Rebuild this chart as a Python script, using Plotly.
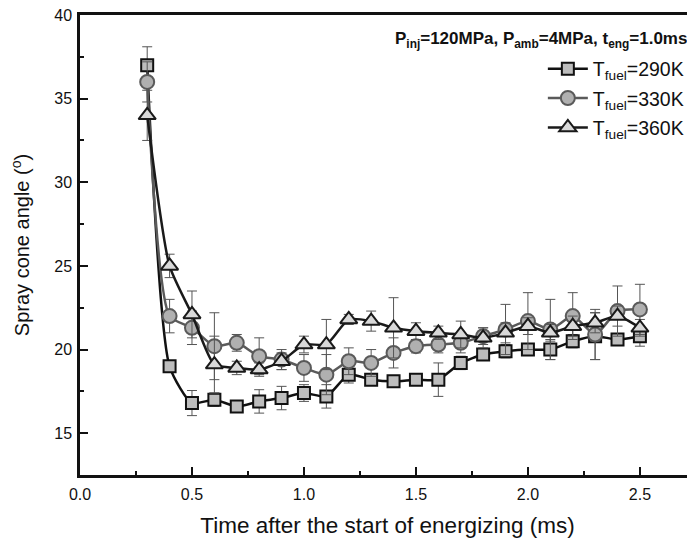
import plotly.graph_objects as go

time_ms = [0.3, 0.4, 0.5, 0.6, 0.7, 0.8, 0.9, 1.0, 1.1, 1.2, 1.3, 1.4, 1.5, 1.6,
           1.7, 1.8, 1.9, 2.0, 2.1, 2.2, 2.3, 2.4, 2.5]

angle_290 = [37.0, 19.0, 16.8, 17.0, 16.6, 16.9, 17.1, 17.4, 17.2, 18.5, 18.2, 18.1,
             18.2, 18.2, 19.2, 19.7, 19.9, 20.0, 20.0, 20.5, 20.8, 20.6, 20.8]
err_290 = [1.1, 0.3, 0.75, 0.4, 0.3, 0.7, 0.7, 0.5, 0.7, 0.5, 0.3, 0.3,
           0.3, 1.0, 0.4, 0.3, 0.4, 0.3, 0.6, 0.4, 1.4, 0.3, 0.6]

angle_330 = [36.0, 22.0, 21.3, 20.2, 20.4, 19.6, 19.4, 18.9, 18.5, 19.3, 19.2, 19.8,
             20.2, 20.3, 20.4, 20.8, 21.2, 21.7, 21.2, 22.0, 20.9, 22.3, 22.4]
err_330 = [1.2, 1.0, 1.0, 2.0, 0.5, 1.1, 0.6, 0.8, 1.2, 0.8, 0.8, 0.9,
           0.4, 0.5, 0.6, 0.5, 1.5, 1.7, 1.8, 1.4, 1.5, 1.5, 1.5]

angle_360 = [34.0, 25.0, 22.1, 19.1, 18.9, 18.8, 19.3, 20.3, 20.3, 21.8, 21.7, 21.3,
             21.1, 21.0, 20.9, 20.7, 21.0, 21.4, 21.0, 21.4, 21.6, 22.0, 21.3]
err_360 = [1.5, 0.7, 1.4, 1.7, 0.4, 0.4, 0.5, 0.5, 1.5, 0.3, 0.6, 1.8,
           0.5, 0.4, 0.8, 0.6, 0.6, 0.5, 0.5, 0.6, 0.6, 0.6, 0.5]

series = [
    ("T<sub>fuel</sub>=290K", angle_290, err_290, "square", 12, "#bdbdbd", "#111111", "#111111"),
    ("T<sub>fuel</sub>=330K", angle_330, err_330, "circle", 14, "#b0b0b0", "#5a5a5a", "#5a5a5a"),
    ("T<sub>fuel</sub>=360K", angle_360, err_360, "triangle-up", 15, "#d9d9d9", "#1a1a1a", "#1a1a1a"),
]

FONT = "Liberation Sans, Arial, sans-serif"

fig = go.Figure()
for i, (name, y, err, sym, size, fill, edge, linec) in enumerate(series):
    fig.add_trace(go.Scatter(
        x=time_ms, y=y, name=name, mode="lines+markers", legendgroup=f"g{i}",
        line=dict(color=linec, width=2.5, shape="spline", smoothing=0.6),
        marker=dict(symbol=sym, size=size, color=fill, line=dict(color=edge, width=2)),
        error_y=dict(type="data", array=err, visible=True, color="#555555",
                     thickness=1, width=5),
    ))

# page body has an 8px margin, so the figure is drawn 8px smaller than the window
fig.update_layout(
    width=687, height=535,
    margin=dict(l=72, r=0, t=7, b=68),
    paper_bgcolor="white", plot_bgcolor="white",
    font=dict(family=FONT, color="#111111", size=16),
    showlegend=True,
    legend=dict(x=0.99, xanchor="right", y=0.925, yanchor="top",
                bgcolor="rgba(0,0,0,0)", font=dict(size=19.5, family=FONT),
                tracegroupgap=1, itemwidth=40, traceorder="grouped"),
    annotations=[dict(
        text="<b>P<sub>inj</sub>=120MPa, P<sub>amb</sub>=4MPa, t<sub>eng</sub>=1.0ms</b>",
        xref="paper", yref="paper", x=0.99, y=0.946, xanchor="right", yanchor="middle",
        showarrow=False, font=dict(size=17, family=FONT, color="#111111"))],
)

fig.update_xaxes(
    range=[0, 2.746], tickvals=[0, 0.5, 1.0, 1.5, 2.0, 2.5],
    ticktext=["0.0", "0.5", "1.0", "1.5", "2.0", "2.5"],
    ticks="inside", ticklen=8, tickwidth=2, tickcolor="#111111",
    minor=dict(ticks="inside", ticklen=4, tickwidth=2, tickcolor="#111111", dtick=0.25, showgrid=False),
    showline=True, linewidth=2.5, linecolor="#111111", mirror=True,
    showgrid=False, zeroline=False, ticklabelstandoff=3, automargin=False,
    ticklabeloverflow="allow", tickfont=dict(size=16),
    title=dict(text="Time after the start of energizing (ms)", font=dict(size=22.5), standoff=16),
)
fig.update_yaxes(
    range=[12.5, 40], tickvals=[15, 20, 25, 30, 35, 40],
    ticks="inside", ticklen=8, tickwidth=2, tickcolor="#111111",
    minor=dict(ticks="inside", ticklen=4, tickwidth=2, tickcolor="#111111", dtick=2.5, showgrid=False),
    showline=True, linewidth=2.5, linecolor="#111111",
    showgrid=False, zeroline=False, ticklabelstandoff=2, automargin=False,
    ticklabeloverflow="allow", tickfont=dict(size=16),
    title=dict(text="Spray cone angle (<sup>o</sup>)", font=dict(size=20), standoff=26),
)

fig.write_html("out.html")
